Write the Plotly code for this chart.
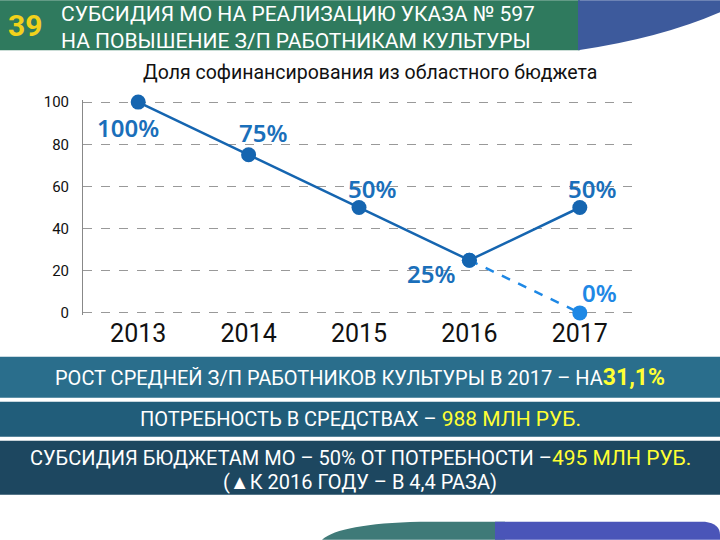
import plotly.graph_objects as go

years = ["2013", "2014", "2015", "2016", "2017"]
share_main = [100, 75, 50, 25, 50]
share_alt = [None, None, None, 25, 0]
y_ticks = [0, 20, 40, 60, 80, 100]

title_lines = ["СУБСИДИЯ МО НА РЕАЛИЗАЦИЮ УКАЗА № 597", "НА ПОВЫШЕНИЕ З/П РАБОТНИКАМ КУЛЬТУРЫ"]
slide_no = "39"
chart_title = "Доля софинансирования из областного бюджета"

W, H = 720, 540
L, R = 83, 635
Y100, Y0 = 102, 313
unit = (Y0 - Y100) / 100
T, B = Y100 - unit, Y0 + unit
FONT = "Roboto, Liberation Sans, sans-serif"


def px(x):
    return (x - L) / (R - L)


def py(y):
    return (B - y) / (B - T)


fig = go.Figure()
fig.add_trace(go.Scatter(
    x=years, y=share_alt, mode="lines+markers",
    line=dict(color="#1e88e5", width=2.5, dash="dash"),
    marker=dict(size=15, color="#1e88e5"),
    hoverinfo="skip", showlegend=False, cliponaxis=False,
))
fig.add_trace(go.Scatter(
    x=years, y=share_main, mode="lines+markers",
    line=dict(color="#1565b0", width=2.5),
    marker=dict(size=15, color="#1565b0"),
    hoverinfo="skip", showlegend=False, cliponaxis=False,
))

annotations = []
LBL = dict(family="Noto Sans, DejaVu Sans, sans-serif", size=24, weight=600)
offsets_main = [(-10, -25), (14, 22), (13, 19), (-38, -13), (12, 19)]
for i, (v, (dx, dy)) in enumerate(zip(share_main, offsets_main)):
    annotations.append(dict(x=i, y=v, xref="x", yref="y", text=f"{v}%", showarrow=False,
                            xshift=dx, yshift=dy, font=dict(**LBL, color="#1a6fba")))
annotations.append(dict(x=4, y=share_alt[4], xref="x", yref="y", text=f"{share_alt[4]}%",
                        showarrow=False, xshift=20, yshift=20, font=dict(**LBL, color="#1e88e5")))

shapes = []
shapes.append(dict(type="rect", xref="paper", yref="paper", x0=px(0), x1=px(580), y0=py(50), y1=py(0),
                   fillcolor="#2f7a5e", line=dict(width=0), layer="below"))
path = (f"M {px(578)},{py(0)} L {px(720)},{py(0)} L {px(720)},{py(12)} "
        f"Q {px(660)},{py(38)} {px(578)},{py(50)} Z")
shapes.append(dict(type="path", xref="paper", yref="paper", path=path,
                   fillcolor="#3d5a9c", line=dict(width=0), layer="below"))
bands = [(357, 398, "#2a6e8c"), (402, 437, "#215d7a"), (441, 495, "#1d4760")]
for y0, y1, c in bands:
    shapes.append(dict(type="rect", xref="paper", yref="paper", x0=px(0), x1=px(720), y0=py(y1), y1=py(y0),
                       fillcolor=c, line=dict(width=0), layer="below"))
path2 = (f"M {px(322)},{py(540)} Q {px(340)},{py(524)} {px(420)},{py(522)} L {px(505)},{py(522)} "
         f"L {px(505)},{py(540)} Z")
shapes.append(dict(type="path", xref="paper", yref="paper", path=path2,
                   fillcolor="#3f7a78", line=dict(width=0), layer="below"))
path3 = (f"M {px(495)},{py(522)} L {px(705)},{py(522)} Q {px(720)},{py(524)} {px(720)},{py(535)} "
         f"L {px(720)},{py(540)} L {px(495)},{py(540)} Z")
shapes.append(dict(type="path", xref="paper", yref="paper", path=path3,
                   fillcolor="#4a55b8", line=dict(width=0), layer="below"))

annotations.append(dict(x=px(6), y=py(25), xref="paper", yref="paper", xanchor="left", yanchor="middle",
                        text=f"<b>{slide_no}</b>", showarrow=False,
                        font=dict(family="Roboto, Liberation Sans, sans-serif", size=30, color="#f2d21b")))
annotations.append(dict(x=px(60), y=py(1), xref="paper", yref="paper", xanchor="left", yanchor="top",
                        align="left", text="<br>".join(title_lines), showarrow=False, borderpad=0,
                        font=dict(family=FONT, size=21, color="white")))
annotations.append(dict(x=px(370), y=py(72), xref="paper", yref="paper", xanchor="center", yanchor="middle",
                        text=chart_title, showarrow=False,
                        font=dict(family=FONT, size=19.5, color="#111")))

Y = "#ffff33"
annotations.append(dict(x=px(360), y=py(378), xref="paper", yref="paper", xanchor="center", yanchor="middle",
                        text=f"РОСТ СРЕДНЕЙ З/П РАБОТНИКОВ КУЛЬТУРЫ В 2017 – НА<span style='color:{Y}; font-size:23px'><b>31,1%</b></span>",
                        showarrow=False, font=dict(family=FONT, size=20, color="white")))
annotations.append(dict(x=px(360), y=py(419), xref="paper", yref="paper", xanchor="center", yanchor="middle",
                        text=f"ПОТРЕБНОСТЬ В СРЕДСТВАХ – <span style='color:{Y}; font-size:21px'>988 МЛН РУБ.</span>",
                        showarrow=False, font=dict(family=FONT, size=20, color="white")))
annotations.append(dict(x=px(360), y=py(458), xref="paper", yref="paper", xanchor="center", yanchor="middle",
                        text=f"СУБСИДИЯ БЮДЖЕТАМ МО – 50% ОТ ПОТРЕБНОСТИ –<span style='color:{Y}; font-size:21px'>495 МЛН РУБ.</span>",
                        showarrow=False, font=dict(family=FONT, size=20, color="white")))
annotations.append(dict(x=px(360), y=py(482), xref="paper", yref="paper", xanchor="center", yanchor="middle",
                        text="(▲К 2016 ГОДУ – В 4,4 РАЗА)",
                        showarrow=False, font=dict(family=FONT, size=20, color="white")))

fig.update_layout(
    width=W, height=H,
    margin=dict(l=L, r=W - R, t=T, b=H - B, pad=0, autoexpand=False),
    paper_bgcolor="white", plot_bgcolor="white",
    shapes=shapes, annotations=annotations,
    xaxis=dict(type="category", categoryorder="array", categoryarray=years, range=[-0.5, 4.5],
               showgrid=False, zeroline=False, showline=False, ticks="", automargin=False,
               ticklabelstandoff=1,
               tickfont=dict(family=FONT, size=25, color="#111"), fixedrange=True),
    yaxis=dict(range=[-1, 101], tickvals=y_ticks, showgrid=True, gridcolor="#999", griddash="dash",
               gridwidth=1, zeroline=False, showline=True, linecolor="#888", linewidth=1,
               ticks="", ticklabelstandoff=10, automargin=False,
               tickfont=dict(family=FONT, size=15, color="#111"), fixedrange=True),
)
fig.write_html("out.html", config={"displayModeBar": False},
               post_script="document.body.style.margin='0px';")
